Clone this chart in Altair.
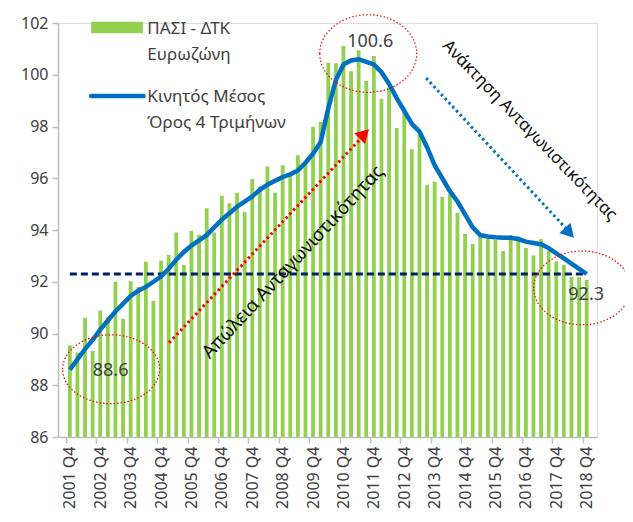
import altair as alt
import pandas as pd

FONT = "Noto Sans"

# ---------------- data ----------------
years = list(range(2001, 2019))
quarters = ["2001 Q4"] + [f"{y} Q{q}" for y in range(2002, 2019) for q in (1, 2, 3, 4)]
tick_labels = [f"{y} Q4" for y in years]

# ΠΑΣΙ - ΔΤΚ Ευρωζώνη (quarterly bars)
hcpi = [89.54, 89.27, 90.61, 89.33, 90.89, 90.64, 92.00, 90.57, 92.02, 91.80,
        92.77, 91.26, 92.82, 93.04, 93.90, 92.64, 93.97, 93.82, 94.84, 93.90,
        95.32, 95.03, 95.44, 94.70, 95.97, 95.69, 96.45, 95.43, 96.50, 96.09,
        96.89, 96.54, 97.99, 98.17, 100.46, 100.44, 101.11, 100.14, 100.95, 99.76,
        100.72, 99.07, 99.51, 97.94, 98.73, 97.12, 97.67, 95.74, 95.86, 95.28,
        95.38, 94.67, 93.85, 93.46, 93.84, 93.66, 93.62, 93.19, 93.81, 93.75,
        93.30, 93.01, 93.65, 93.19, 92.78, 92.65, 92.18, 92.18, 92.07]

# Κινητός Μέσος Όρος 4 Τριμήνων (line)
ma4 = [88.6, 89.0, 89.4, 89.75, 90.15, 90.5, 90.85, 91.15, 91.45, 91.65,
       91.8, 92.0, 92.2, 92.5, 92.85, 93.15, 93.4, 93.6, 93.8, 94.1,
       94.4, 94.65, 94.9, 95.1, 95.3, 95.55, 95.75, 95.9, 96.05, 96.15,
       96.3, 96.6, 96.95, 97.4, 98.7, 99.8, 100.4, 100.55, 100.6, 100.5,
       100.4, 100.1, 99.65, 99.1, 98.6, 98.1, 97.8, 97.2, 96.5, 96.0,
       95.5, 95.1, 94.6, 94.1, 93.8, 93.75, 93.72, 93.7, 93.7, 93.65,
       93.55, 93.5, 93.45, 93.3, 93.1, 92.9, 92.7, 92.5, 92.3]

ref_level = [92.3]
y_ticks = [86, 88, 90, 92, 94, 96, 98, 100, 102]

# annotation anchors (data units: quarter index, index value)
ell_x = [39.26, 5.43, 67.41]
ell_y = [100.82, 88.62, 91.76]
ell_ry = [0.80, 0.71, 0.76]
ell_txt = ["100.6", "88.6", "92.3"]
txt_x = [39.52, 5.36, 67.93]
txt_y = [101.26, 88.56, 91.49]

arrow_x0 = [13.05, 46.88]
arrow_y0 = [89.64, 99.87]
arrow_x1 = [38.1, 65.22]
arrow_y1 = [97.48, 94.08]
head_x = [38.74, 65.73]
head_y = [97.71, 93.89]
head_angle = [45, 137]
arrow_col = ["#FF0000", "#0070C0"]

rot_txt = ["Απώλεια Ανταγωνιστικότητας", "Ανάκτηση Ανταγωνιστικότητας"]
rot_x = [29.32, 60.5]
rot_y = [92.77, 97.85]
rot_angle = [313, 46]
rot_size = [18.5, 16.8]

leg_txt = ["ΠΑΣΙ - ΔΤΚ", "Ευρωζώνη", "Κινητός Μέσος", "Όρος 4 Τριμήνων"]
leg_txt_x = [10.2, 10.2, 10.2, 10.2]
leg_txt_y = [101.78, 100.76, 99.14, 98.12]

# ---------------- chart ----------------
N = len(quarters)
df = pd.DataFrame({"i": list(range(N)), "q": quarters, "bar": hcpi, "ma": ma4})

xs = alt.Scale(domain=[-0.9, 68.7], nice=False, zero=False)
ys = alt.Scale(domain=[86, 102], nice=False, zero=False)

label_arr = "[" + ",".join(f"'{t}'" for t in tick_labels) + "]"

x_axis = alt.Axis(values=list(range(0, N, 4)), tickCount=40,
                  labelExpr=f"{label_arr}[round(datum.value/4)]",
                  labelAngle=270, title=None, tickOffset=-3.9, labelOffset=3.9, labelPadding=3)
y_axis = alt.Axis(values=y_ticks, tickCount=20, title=None, labelPadding=4)


def XQ(f):
    return alt.X(f, scale=xs)


def YQ(f):
    return alt.Y(f, scale=ys)


bars = alt.Chart(df).mark_bar(size=3.8, color="#92D050").encode(
    x=alt.X("i:Q", scale=xs, axis=x_axis), y=alt.Y("bar:Q", scale=ys, axis=y_axis), y2=alt.datum(86))

ref_df = pd.DataFrame({"x0": [0], "x1": [N - 1], "v": ref_level})
ref = alt.Chart(ref_df).mark_rule(color="#002060", strokeWidth=2.8, strokeDash=[7, 4]).encode(
    x=XQ("x0:Q"), x2="x1:Q", y=YQ("v:Q"))

line = alt.Chart(df).mark_line(color="#0070C0", strokeWidth=4.5).encode(
    x=XQ("i:Q"), y=YQ("ma:Q"))

# ellipses
ell_df = pd.DataFrame({"x": ell_x, "y": ell_y,
                       "shp": [f"M-1,0 A1,{r} 0 1,1 1,0 A1,{r} 0 1,1 -1,0 Z" for r in ell_ry]})
ellipses = alt.Chart(ell_df).mark_point(filled=False, color="#FF0000", strokeWidth=1.2,
                                        strokeDash=[1.5, 2], size=9400, opacity=1).encode(
    x=XQ("x:Q"), y=YQ("y:Q"), shape=alt.Shape("shp:N", scale=None))

lab_df = pd.DataFrame({"x": txt_x, "y": txt_y, "t": ell_txt})
labels = alt.Chart(lab_df).mark_text(font=FONT, fontSize=18, color="#404040").encode(
    x=XQ("x:Q"), y=YQ("y:Q"), text="t:N")

arr_df = pd.DataFrame({"x0": arrow_x0, "y0": arrow_y0, "x1": arrow_x1, "y1": arrow_y1,
                       "hx": head_x, "hy": head_y, "ang": head_angle, "col": arrow_col})
arrows = alt.Chart(arr_df).mark_rule(strokeWidth=3, strokeDash=[2.5, 3]).encode(
    x=XQ("x0:Q"), y=YQ("y0:Q"), x2="x1:Q", y2="y1:Q",
    color=alt.Color("col:N", scale=None))
heads = alt.Chart(arr_df).mark_point(shape="triangle-up", filled=True, size=230, opacity=1).encode(
    x=XQ("hx:Q"), y=YQ("hy:Q"),
    angle=alt.Angle("ang:Q", scale=None), color=alt.Color("col:N", scale=None))

rot_df = pd.DataFrame({"x": rot_x, "y": rot_y, "t": rot_txt})
rot_texts = alt.layer(*[
    alt.Chart(rot_df.iloc[[k]]).mark_text(font=FONT, fontSize=rot_size[k], color="#0d0d0d",
                                          angle=rot_angle[k]).encode(
        x=XQ("x:Q"), y=YQ("y:Q"), text="t:N")
    for k in range(2)])

# legend
leg_df = pd.DataFrame({"x": leg_txt_x, "y": leg_txt_y, "t": leg_txt})
leg_text = alt.Chart(leg_df).mark_text(font=FONT, fontSize=17, color="#404040", align="left",
                                       baseline="middle").encode(
    x=XQ("x:Q"), y=YQ("y:Q"), text="t:N")
leg_rect = alt.Chart(pd.DataFrame({"x0": [2.81], "x1": [9.60], "y0": [102.05], "y1": [101.6]})).mark_rect(
    color="#92D050").encode(x=XQ("x0:Q"), x2="x1:Q", y=YQ("y0:Q"), y2="y1:Q")
leg_line = alt.Chart(pd.DataFrame({"x0": [2.81], "x1": [9.69], "y": [99.18]})).mark_rule(
    color="#0070C0", strokeWidth=4.5, strokeCap="round").encode(
    x=XQ("x0:Q"), x2="x1:Q", y=YQ("y:Q"))

chart = alt.layer(bars, ref, line, ellipses, labels, arrows, heads, rot_texts,
                  leg_rect, leg_line, leg_text).properties(
    width=539, height=414,
    autosize=alt.AutoSizeParams(type="none"),
    padding={"left": 50, "top": 15, "right": 28, "bottom": 85},
).configure_view(stroke=None).configure(font=FONT, background="white"
).configure_axis(labelOverlap=False, labelFlush=False, labelBound=False, grid=False,
                 labelFontSize=16, labelColor="#404040", labelFont=FONT,
                 tickSize=6, tickColor="#bfbfbf", tickWidth=1.5,
                 domainColor="#bfbfbf", domainWidth=1.5, title=None)

chart.save("out.html", embed_options={"renderer": "svg", "actions": False})
